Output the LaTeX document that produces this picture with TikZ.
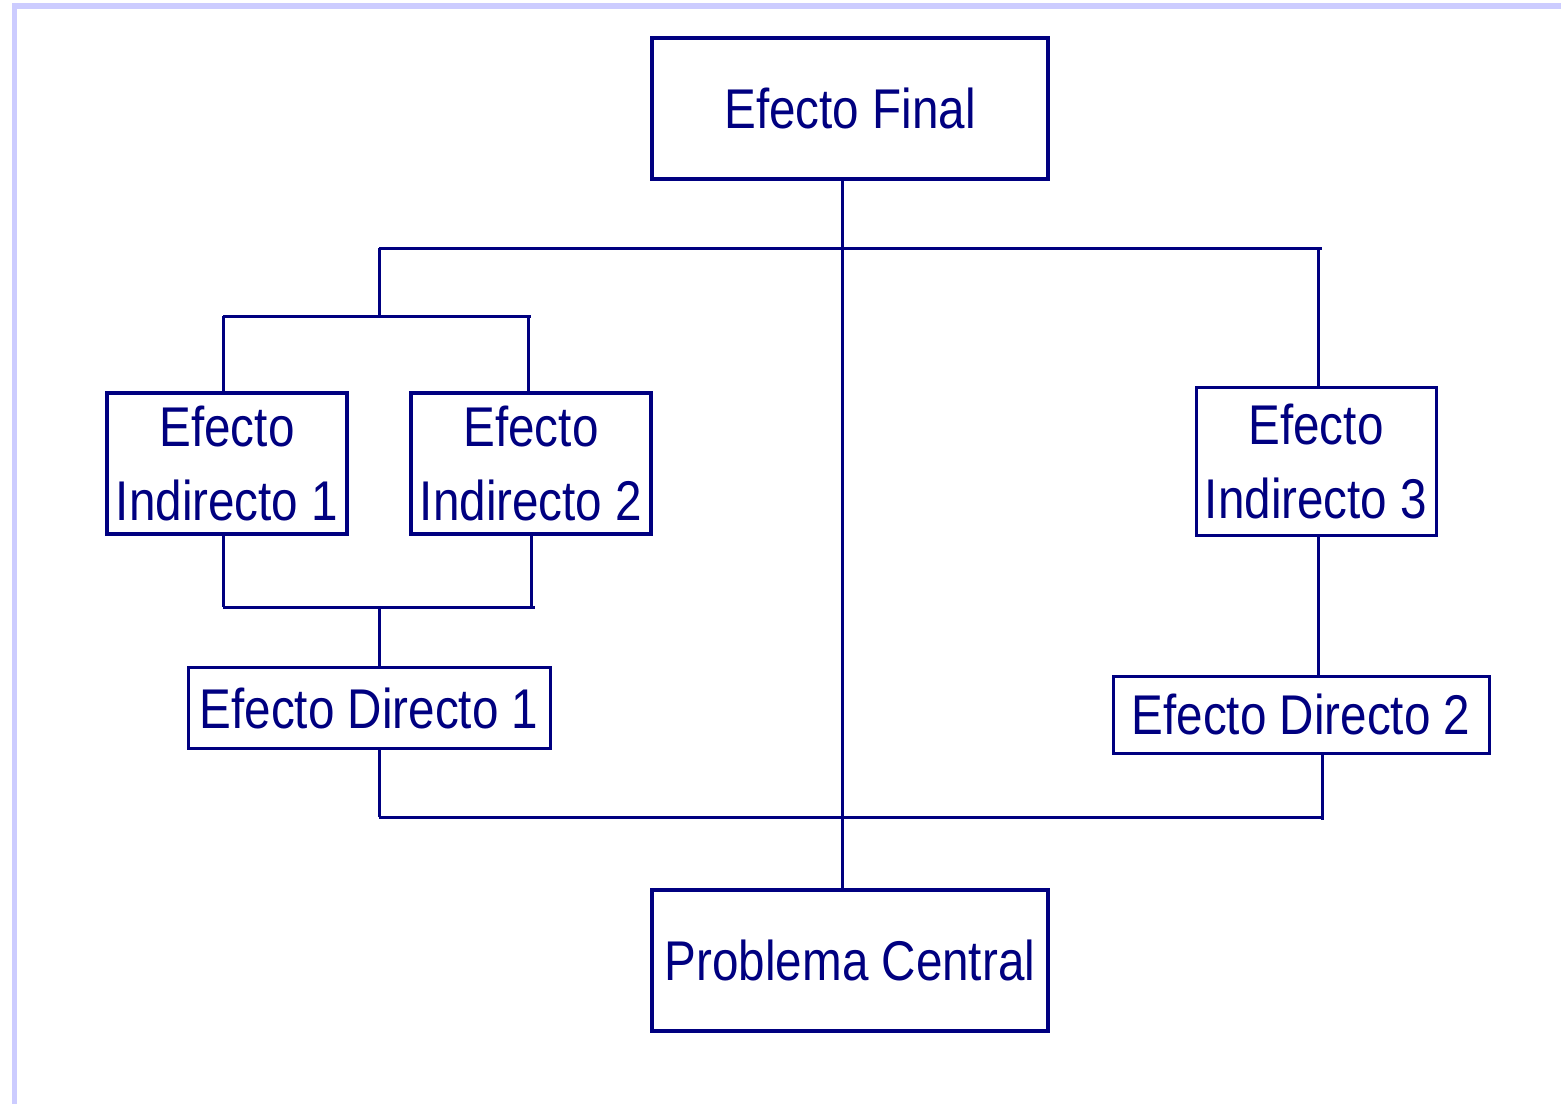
\documentclass[tikz,border=0pt]{standalone}
\usepackage{fontspec}
\setmainfont{Liberation Sans}[FakeStretch=0.85]
\definecolor{navyc}{RGB}{0,0,128}
\definecolor{framec}{RGB}{204,204,255}
\begin{document}
\begin{tikzpicture}[x=1pt,y=-1pt,
  boxbase/.style={draw=navyc,text=navyc,rectangle,inner sep=0pt,align=center,
    font=\fontsize{56}{74}\selectfont},
  bigbox/.style={boxbase,line width=4pt,minimum width=396pt,minimum height=141pt},
  indbox/.style={boxbase,line width=3.5pt,minimum width=240pt,minimum height=141pt},
  thinbox/.style={boxbase,line width=3pt},
  conn/.style={draw=navyc,line width=3pt}]
\useasboundingbox (0,0) rectangle (1561,1104);
% frame
\fill[framec] (12,3) rectangle (1561,9);
\fill[framec] (12,3) rectangle (17,1104);
% nodes
\node[bigbox] (EF) at (850,108.5) {Efecto Final};
\node[bigbox] (PC) at (850,960.5) {Problema Central};
\node[indbox] (EI1) at (227,463.5) {Efecto\\Indirecto 1};
\node[indbox] (EI2) at (531,463.5) {Efecto\\Indirecto 2};
\node[thinbox,line width=3pt,minimum width=240pt,minimum height=148pt] (EI3) at (1316,461.5) {Efecto\\Indirecto 3};
\node[thinbox,minimum width=362pt,minimum height=81pt] (ED1) at (369,708) {Efecto Directo 1};
\node[thinbox,minimum width=376pt,minimum height=77pt] (ED2) at (1301,714.5) {Efecto Directo 2};
% junction coordinates
\coordinate (trunk) at (842,0);
\coordinate (tl) at (379,248);
\coordinate (tr) at (1322,248);
\coordinate (trv) at (1318,248);
\coordinate (ml) at (379,316);
\coordinate (l1) at (223,316);
\coordinate (l2) at (531,316);
\coordinate (l2v) at (528,316);
\coordinate (b1) at (223,607);
\coordinate (b2) at (535,607);
\coordinate (b2v) at (531,607);
\coordinate (bm) at (379,607);
\coordinate (dl) at (379,817);
\coordinate (dr) at (1322,817);
\coordinate (drv) at (1322,820);
% connectors
\draw[conn] (EF.south -| trunk) -- (PC.north -| trunk);
\draw[conn] (tl) -- (tr);
\draw[conn] (tl) -- (ml);
\draw[conn] (l1) -- (l2);
\draw[conn] (l1) -- (EI1.north -| l1);
\draw[conn] (l2v) -- (EI2.north -| l2v);
\draw[conn] (trv) -- (EI3.north -| trv);
\draw[conn] (EI1.south -| b1) -- (b1);
\draw[conn] (EI2.south -| b2v) -- (b2v);
\draw[conn] (b1) -- (b2);
\draw[conn] (bm) -- (ED1.north -| bm);
\draw[conn] (ED1.south -| dl) -- (dl);
\draw[conn] (dl) -- (dr);
\draw[conn] (ED2.south -| drv) -- (drv);
\draw[conn] (EI3.south -| trv) -- (ED2.north -| trv);
\end{tikzpicture}
\end{document}
